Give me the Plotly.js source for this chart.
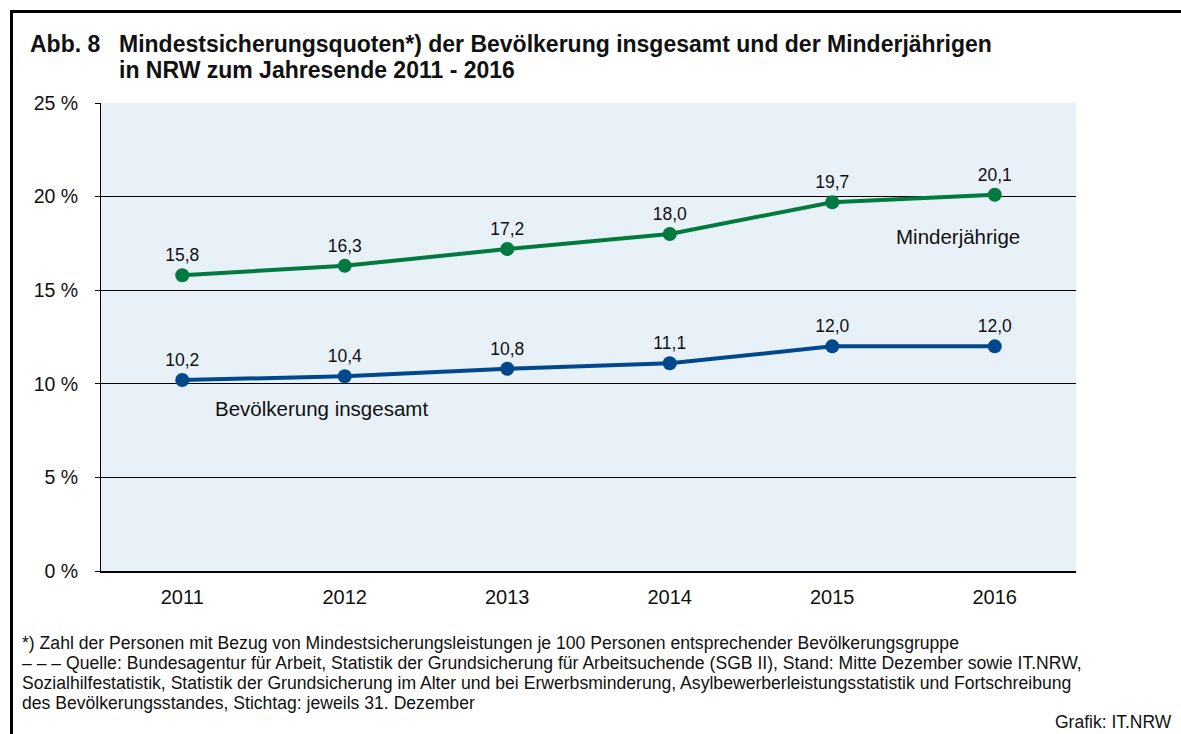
<!DOCTYPE html>
<html>
<head>
<meta charset="utf-8">
<script src="https://cdn.plot.ly/plotly-3.0.1.min.js"></script>
<style>
html,body{margin:0;padding:0;background:#fff;}
#wrap{position:relative;width:1181px;height:734px;}
#frame{position:absolute;left:10px;top:10px;width:1171px;height:724px;border-top:3px solid #000;border-left:3px solid #000;box-sizing:border-box;pointer-events:none;z-index:5;}
#chart{position:absolute;left:0;top:0;width:1181px;height:734px;}
</style>
</head>
<body>
<div id="wrap"><div id="chart"></div><div id="frame"></div></div>
<script>
const years = ['2011','2012','2013','2014','2015','2016'];
const minderjaehrige = [15.8, 16.3, 17.2, 18.0, 19.7, 20.1];
const bevoelkerung = [10.2, 10.4, 10.8, 11.1, 12.0, 12.0];
const yTicks = [0, 5, 10, 15, 20, 25];
const yTickLabels = ['0 %', '5 %', '10 %', '15 %', '20 %', '25 %'];

const FONT = 'Liberation Sans, Arial, sans-serif';
const GREEN = '#007a3e';
const BLUE = '#00488e';

const L = 101, R = 1076, T = 103, B = 571;
const px = x => (x - L) / (R - L);
const py = y => (B - y) / (B - T);

const traces = [
  {
    x: years, y: minderjaehrige, type: 'scatter', mode: 'lines+markers+text',
    line: {color: GREEN, width: 4},
    marker: {color: GREEN, size: 14},
    texttemplate: '%{y:.1f}', textposition: 'top center',
    textfont: {family: FONT, size: 17.5, color: '#111'},
    cliponaxis: false, hoverinfo: 'skip'
  },
  {
    x: years, y: bevoelkerung, type: 'scatter', mode: 'lines+markers+text',
    line: {color: BLUE, width: 4},
    marker: {color: BLUE, size: 14},
    texttemplate: '%{y:.1f}', textposition: 'top center',
    textfont: {family: FONT, size: 17.5, color: '#111'},
    cliponaxis: false, hoverinfo: 'skip'
  }
];

const footLines = [
  '*) Zahl der Personen mit Bezug von Mindestsicherungsleistungen je 100 Personen entsprechender Bevölkerungsgruppe',
  '– – – Quelle: Bundesagentur für Arbeit, Statistik der Grundsicherung für Arbeitsuchende (SGB II), Stand: Mitte Dezember sowie IT.NRW,',
  'Sozialhilfestatistik, Statistik der Grundsicherung im Alter und bei Erwerbsminderung, Asylbewerberleistungsstatistik und Fortschreibung',
  'des Bevölkerungsstandes, Stichtag: jeweils 31. Dezember'
];
const footY = [643, 663, 683, 703];

const annotations = [
  {xref: 'paper', yref: 'paper', x: px(28), y: py(44), xanchor: 'left', yanchor: 'middle',
   text: '<b>Abb. 8</b>', showarrow: false, font: {family: FONT, size: 23, color: '#111'}},
  {xref: 'paper', yref: 'paper', x: px(117), y: py(44), xanchor: 'left', yanchor: 'middle',
   text: '<b>Mindestsicherungsquoten*) der Bevölkerung insgesamt und der Minderjährigen</b>',
   showarrow: false, font: {family: FONT, size: 23, color: '#111'}},
  {xref: 'paper', yref: 'paper', x: px(117), y: py(70), xanchor: 'left', yanchor: 'middle',
   text: '<b>in NRW zum Jahresende 2011 - 2016</b>',
   showarrow: false, font: {family: FONT, size: 23, color: '#111'}},
  {xref: 'paper', yref: 'paper', x: px(894), y: py(236), xanchor: 'left', yanchor: 'middle',
   text: 'Minderjährige', showarrow: false, font: {family: FONT, size: 20.5, color: '#111'}},
  {xref: 'paper', yref: 'paper', x: px(213), y: py(408), xanchor: 'left', yanchor: 'middle',
   text: 'Bevölkerung insgesamt', showarrow: false, font: {family: FONT, size: 20.5, color: '#111'}},
  {xref: 'paper', yref: 'paper', x: px(1174), y: py(722), xanchor: 'right', yanchor: 'middle',
   text: 'Grafik: IT.NRW', showarrow: false, font: {family: FONT, size: 17.5, color: '#111'}}
];
footLines.forEach((t, i) => annotations.push({
  xref: 'paper', yref: 'paper', x: px(20), y: py(footY[i]), xanchor: 'left', yanchor: 'middle',
  text: t, showarrow: false, font: {family: FONT, size: 17.6, color: '#111'}
}));

const layout = {
  width: 1181, height: 734,
  margin: {l: L, r: 1181 - R, t: T, b: 734 - B, pad: 0},
  paper_bgcolor: 'rgba(0,0,0,0)',
  plot_bgcolor: '#e8f0f8',
  separators: ',.',
  showlegend: false,
  font: {family: FONT, color: '#111'},
  xaxis: {
    type: 'category', range: [-0.5, 5.5], fixedrange: true,
    showgrid: false, zeroline: false,
    showline: true, linecolor: '#000', linewidth: 2,
    ticks: '', tickfont: {family: FONT, size: 20, color: '#111'},
    ticklabelstandoff: 7
  },
  yaxis: {
    range: [0, 25], fixedrange: true,
    tickvals: yTicks, ticktext: yTickLabels,
    showgrid: true, gridcolor: '#000', gridwidth: 1,
    zeroline: false,
    showline: true, linecolor: '#000', linewidth: 1,
    ticks: 'outside', ticklen: 5, tickcolor: '#000', tickwidth: 1,
    tickfont: {family: FONT, size: 19.5, color: '#111'},
    ticklabelstandoff: 13
  },
  annotations: annotations
};

Plotly.newPlot('chart', traces, layout, {displayModeBar: false, staticPlot: true});
</script>
</body>
</html>
